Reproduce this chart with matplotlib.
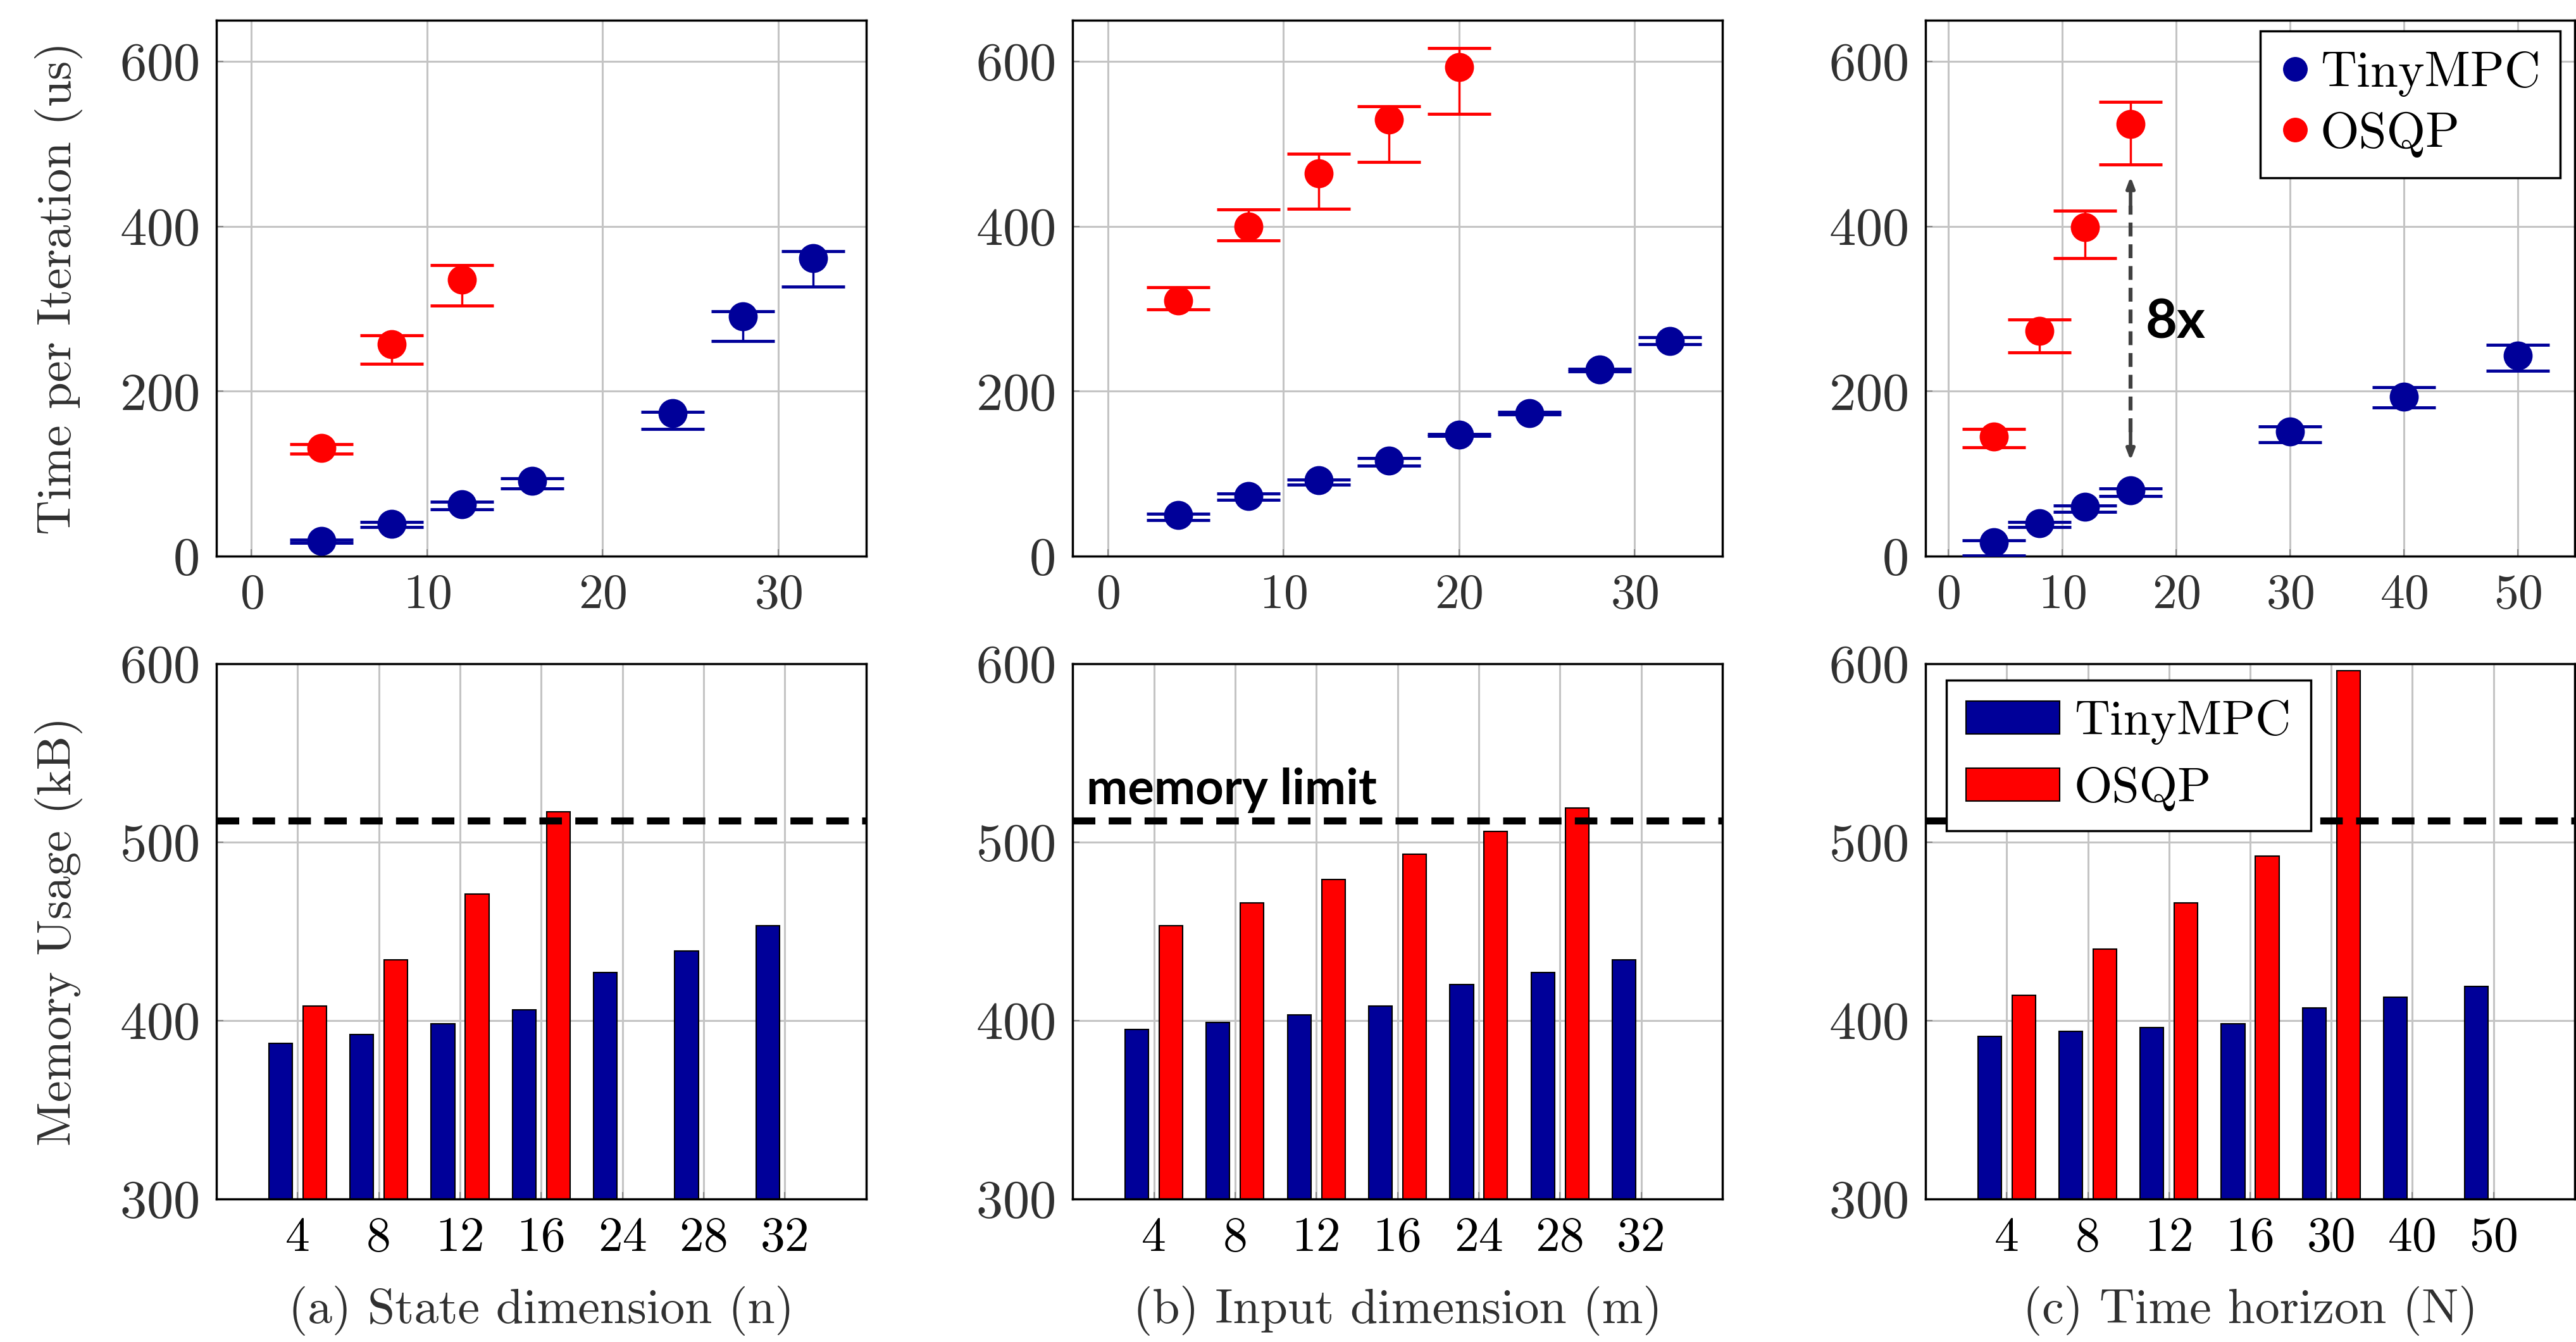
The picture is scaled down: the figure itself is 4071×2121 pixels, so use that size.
import numpy as np
import matplotlib
matplotlib.use("Agg")
import matplotlib.pyplot as plt
from matplotlib.lines import Line2D
from matplotlib.patches import Patch

plt.rcParams['font.family'] = ['cmr10', 'DejaVu Serif']
plt.rcParams['mathtext.fontset'] = 'cm'
plt.rcParams['axes.unicode_minus'] = False
plt.rcParams['axes.formatter.use_mathtext'] = True

BLUE = '#000099'
RED = '#ff0000'

# ---- time per iteration (top row) ----
n_tiny = [4, 8, 12, 16, 24, 28, 32]
t_n_tiny = [18, 39, 63, 91, 173, 291, 361]
t_n_tiny_hi = [20, 41, 66, 94, 175, 297, 370]
t_n_tiny_lo = [16, 35, 57, 82, 154, 261, 327]
n_osqp = [4, 8, 12]
t_n_osqp = [131, 257, 335]
t_n_osqp_hi = [136, 268, 353]
t_n_osqp_lo = [124, 233, 304]

m_tiny = [4, 8, 12, 16, 20, 24, 28, 32]
t_m_tiny = [50, 73, 92, 116, 147, 173, 226, 261]
t_m_tiny_hi = [51, 76, 93, 119, 148, 175, 227, 265]
t_m_tiny_lo = [44, 68, 87, 110, 146, 172, 224, 257]
m_osqp = [4, 8, 12, 16, 20]
t_m_osqp = [310, 400, 464, 529, 593]
t_m_osqp_hi = [326, 420, 488, 545, 616]
t_m_osqp_lo = [299, 383, 421, 478, 536]

N_tiny = [4, 8, 12, 16, 30, 40, 50]
t_N_tiny = [17, 40, 60, 80, 151, 193, 243]
t_N_tiny_hi = [19, 41, 61, 82, 157, 205, 256]
t_N_tiny_lo = [1, 35, 54, 73, 138, 180, 225]
N_osqp = [4, 8, 12, 16]
t_N_osqp = [145, 273, 399, 524]
t_N_osqp_hi = [154, 287, 419, 551]
t_N_osqp_lo = [132, 247, 361, 475]

# ---- memory usage (bottom row) ----
n_labels = ['4', '8', '12', '16', '24', '28', '32']
mem_n_tiny = [387, 392, 398, 406, 427, 439, 453]
mem_n_osqp = [408, 434, 471, 517]
m_labels = ['4', '8', '12', '16', '24', '28', '32']
mem_m_tiny = [395, 399, 403, 408, 420, 427, 434]
mem_m_osqp = [453, 466, 479, 493, 506, 519]
N_labels = ['4', '8', '12', '16', '30', '40', '50']
mem_N_tiny = [391, 394, 396, 398, 407, 413, 419]
mem_N_osqp = [414, 440, 466, 492, 596]
mem_limit = 512

xlabels = ['(a) State dimension (n)', '(b) Input dimension (m)', '(c) Time horizon (N)']

XFS = 56
YFS = 61
LFS = 55
fig = plt.figure(figsize=(40.71, 21.21), dpi=100)

lefts = [0.0840, 0.4164, 0.7475]
widths = [0.2522, 0.2522, 0.2520]
top_axes = [fig.add_axes([l, 0.5856, w, 0.3995]) for l, w in zip(lefts, widths)]
bot_axes = [fig.add_axes([l, 0.1066, w, 0.3990]) for l, w in zip(lefts, widths)]


def style(ax):
    ax.grid(True, color='#c4c4c4', linewidth=2.2)
    ax.set_axisbelow(True)
    for s in ax.spines.values():
        s.set_linewidth(2.5)
        s.set_color('black')
    ax.tick_params(direction='in', length=8, width=1.5, color='#888888', pad=20)
    ax.tick_params(axis='x', labelsize=XFS)
    ax.tick_params(axis='y', labelsize=YFS, labelcolor='#303030')


def errs(ax, x, y, hi, lo, color):
    y = np.array(y); hi = np.array(hi); lo = np.array(lo)
    ax.errorbar(x, y, yerr=[y - lo, hi - y], fmt='o', color=color,
                markersize=32, elinewidth=2.5, capsize=36, capthick=3.5, zorder=3)


top_data = [
    (n_tiny, t_n_tiny, t_n_tiny_hi, t_n_tiny_lo, n_osqp, t_n_osqp, t_n_osqp_hi, t_n_osqp_lo),
    (m_tiny, t_m_tiny, t_m_tiny_hi, t_m_tiny_lo, m_osqp, t_m_osqp, t_m_osqp_hi, t_m_osqp_lo),
    (N_tiny, t_N_tiny, t_N_tiny_hi, t_N_tiny_lo, N_osqp, t_N_osqp, t_N_osqp_hi, t_N_osqp_lo),
]
for i, (ax, d) in enumerate(zip(top_axes, top_data)):
    style(ax)
    errs(ax, d[0], d[1], d[2], d[3], BLUE)
    errs(ax, d[4], d[5], d[6], d[7], RED)
    ax.set_ylim(0, 650)
    ax.set_yticks([0, 200, 400, 600])
    if i < 2:
        ax.set_xlim(-2, 35)
        ax.set_xticks([0, 10, 20, 30])
    else:
        ax.set_xlim(-2, 55)
        ax.set_xticks([0, 10, 20, 30, 40, 50])
    ax.tick_params(axis='x', labelcolor='#303030')

top_axes[0].set_ylabel('Time per Iteration (us)', fontsize=LFS, color='#303030')

# 8x annotation
axc = top_axes[2]
axc.plot([16, 16], [150, 425], linestyle=(0, (3.5, 2)), color='#404040', linewidth=4.5, zorder=2)
axc.annotate('', xy=(16, 460), xytext=(16, 420),
             arrowprops=dict(arrowstyle='-|>,head_length=1.0,head_width=0.38',
                             color='#404040', lw=4, shrinkA=0, shrinkB=0))
axc.annotate('', xy=(16, 116), xytext=(16, 156),
             arrowprops=dict(arrowstyle='-|>,head_length=1.0,head_width=0.38',
                             color='#404040', lw=4, shrinkA=0, shrinkB=0))
axc.text(17.3, 283, '8x', fontsize=62, fontweight='bold', family='Lato',
         va='center', ha='left', color='black')

handles = [Line2D([], [], marker='o', linestyle='none', color=BLUE, markersize=27),
           Line2D([], [], marker='o', linestyle='none', color=RED, markersize=27)]
leg = axc.legend(handles, ['TinyMPC', 'OSQP'], loc='upper right',
                 bbox_to_anchor=(0.978, 0.979), borderaxespad=0, fontsize=57,
                 fancybox=False, framealpha=1, edgecolor='black',
                 handlelength=0.6, handletextpad=0.2, labelspacing=0.3,
                 borderpad=0.4)
leg.get_frame().set_linewidth(2.5)

# bottom row bars
bot_data = [
    (n_labels, mem_n_tiny, mem_n_osqp),
    (m_labels, mem_m_tiny, mem_m_osqp),
    (N_labels, mem_N_tiny, mem_N_osqp),
]
bw = 0.29
off = 0.21
for i, (ax, (labels, tiny, osqp)) in enumerate(zip(bot_axes, bot_data)):
    style(ax)
    xt = np.arange(len(tiny))
    xo = np.arange(len(osqp))
    ax.bar(xt - off, np.array(tiny) - 300, bw, bottom=300, color=BLUE,
           edgecolor='black', linewidth=1.5, zorder=2)
    ax.bar(xo + off, np.array(osqp) - 300, bw, bottom=300, color=RED,
           edgecolor='black', linewidth=1.5, zorder=2)
    ax.axhline(mem_limit, color='black', linewidth=8, dashes=(3.2, 1.9), zorder=3)
    ax.set_xlim(-1, len(labels))
    ax.set_ylim(300, 600)
    ax.set_xticks(xt)
    ax.set_xticklabels(labels)
    ax.set_yticks([300, 400, 500, 600])
    ax.set_xlabel(xlabels[i], fontsize=XFS, color='#303030')
    ax.xaxis.set_label_coords(0.5, -0.162)

bot_axes[0].set_ylabel('Memory Usage (kB)', fontsize=LFS, color='#303030')

bot_axes[1].text(-0.83, 521, 'memory limit', fontsize=56, fontweight='bold',
                 family='Lato', ha='left', va='baseline', color='black', zorder=4)

bh = [Patch(facecolor=BLUE, edgecolor='black', linewidth=1.5),
      Patch(facecolor=RED, edgecolor='black', linewidth=1.5)]
leg2 = bot_axes[2].legend(bh, ['TinyMPC', 'OSQP'], loc='upper left',
                          bbox_to_anchor=(0.032, 0.969), borderaxespad=0, fontsize=56,
                          fancybox=False, framealpha=1, edgecolor='black',
                          handlelength=1.9, handleheight=0.65, handletextpad=0.3,
                          labelspacing=0.45, borderpad=0.4)
leg2.get_frame().set_linewidth(2.5)
leg2.set_zorder(10)

# align y labels
for ax in (top_axes[0], bot_axes[0]):
    ax.yaxis.set_label_coords(-0.205, 0.5)

fig.savefig('out.png', dpi=100)
